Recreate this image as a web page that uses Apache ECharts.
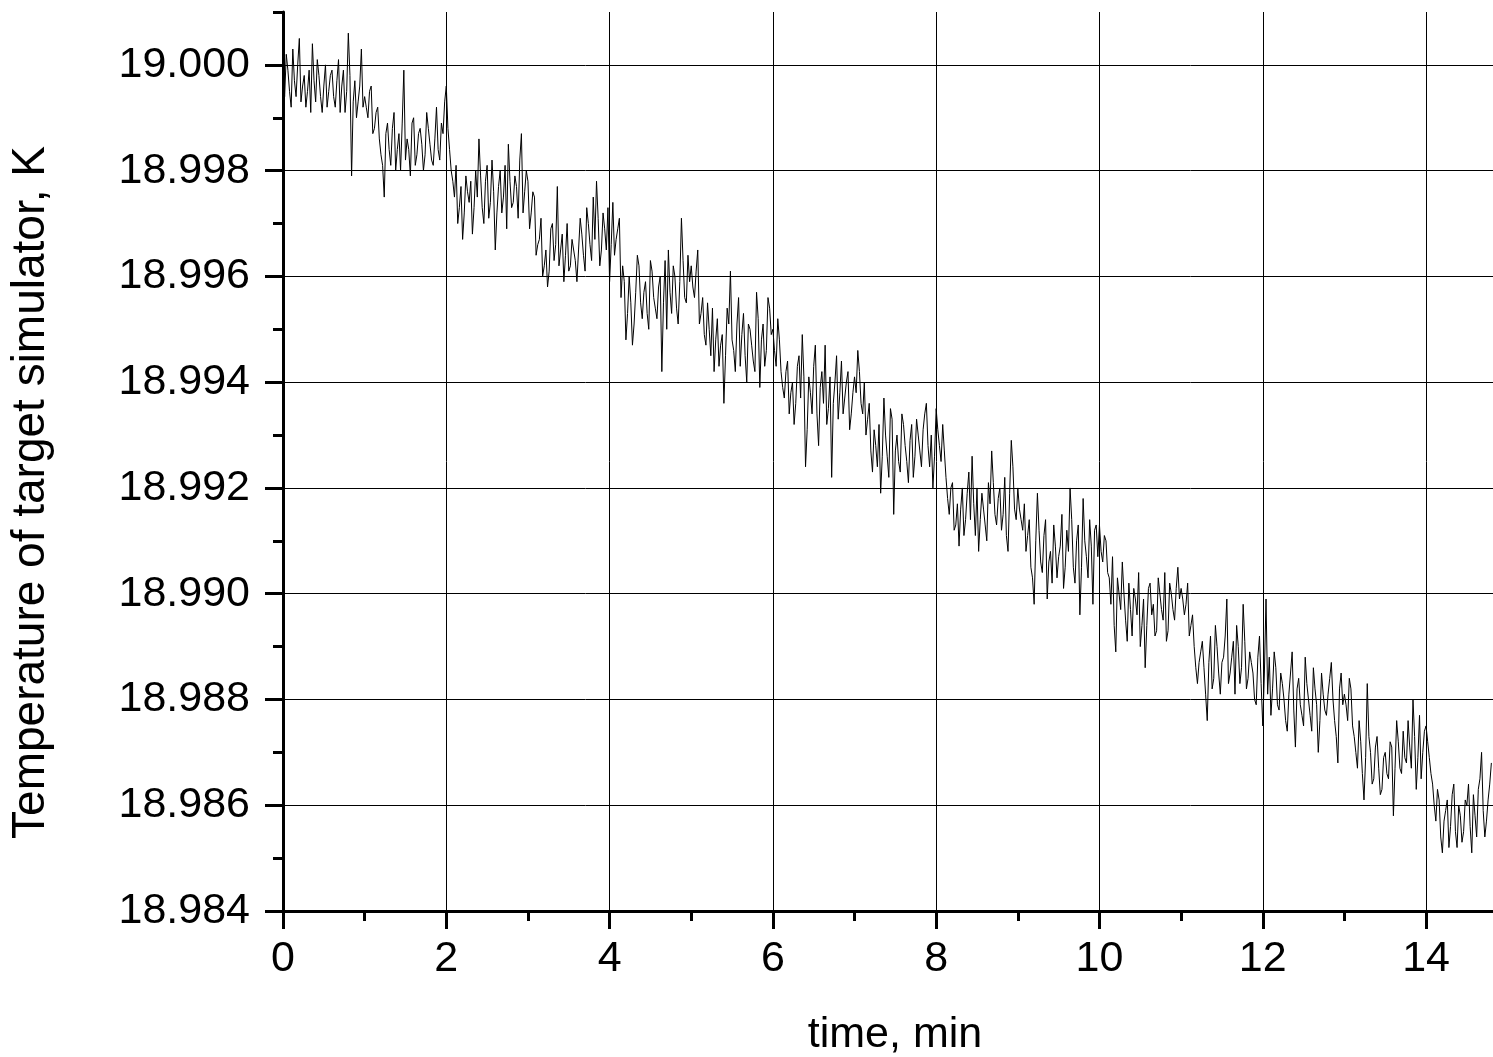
<!DOCTYPE html>
<html>
<head>
<meta charset="utf-8">
<title>Temperature of target simulator</title>
<script src="https://cdn.jsdelivr.net/npm/echarts@6/dist/echarts.min.js"></script>
<style>
  html, body { margin: 0; padding: 0; background: #fff; }
  #chart { width: 1493px; height: 1057px; }
</style>
</head>
<body>
<div id="chart"></div>
<script>
// sampling step of the trace, minutes
const sampleStep = 0.04;

// temperature, in 0.1 mK relative to 19.000 K
// samples at t = 0, 0.04, 0.08 ... (one row per minute)
const tempOffset = [
  -2, 2, -5, 3, -6, 5, -4, -8, -1, 4, -7, -2, -9, 0, -5, -1, -8, 1, -4, -9, 6, -21, -3, -7, 3,
  -6, -10, -4, -12, -8, -17, -25, -11, -19, -9, -16, -20, -1, -14, -21, -10, -17, -12, -20, -9, -15, -19, -8, -18, -13,
  -4, -16, -22, -19, -27, -33, -21, -26, -32, -20, -14, -27, -22, -29, -18, -35, -23, -28, -19, -15, -27, -21, -29, -13, -24,
  -22, -28, -25, -34, -29, -38, -42, -31, -37, -23, -35, -41, -30, -38, -33, -41, -29, -36, -27, -34, -25, -22, -38, -28, -35,
  -41, -26, -33, -29, -38, -52, -40, -53, -43, -38, -48, -41, -50, -39, -46, -42, -58, -37, -35, -47, -40, -49, -29, -44, -36,
  -38, -44, -35, -47, -51, -45, -55, -58, -48, -53, -64, -46, -39, -54, -49, -57, -47, -60, -50, -56, -43, -61, -49, -54, -46,
  -50, -57, -52, -61, -58, -66, -60, -64, -55, -51, -76, -59, -66, -53, -72, -58, -53, -65, -78, -60, -67, -56, -63, -58, -66,
  -59, -54, -64, -60, -67, -73, -69, -76, -81, -63, -74, -65, -85, -70, -77, -68, -75, -71, -78, -67, -73, -69, -64, -76, -80,
  -65, -72, -68, -78, -85, -79, -87, -91, -80, -86, -77, -74, -89, -92, -81, -87, -79, -73, -85, -82, -88, -78, -92, -71, -84,
  -80, -86, -83, -89, -95, -102, -81, -94, -89, -101, -92, -87, -97, -91, -99, -88, -80, -95, -90, -104, -82, -93, -86, -102, -87,
  -87, -94, -90, -97, -93, -111, -100, -94, -105, -98, -108, -101, -96, -106, -114, -99, -104, -108, -97, -103, -96, -107, -100, -105, -95,
  -99, -104, -98, -106, -110, -117, -111, -114, -124, -108, -116, -110, -119, -112, -101, -115, -109, -106, -117, -102, -118, -111, -115, -121, -108,
  -125, -101, -112, -118, -114, -122, -117, -124, -119, -111, -129, -116, -123, -112, -120, -126, -118, -130, -115, -122, -119, -113, -124, -132, -115,
  -119, -124, -118, -127, -133, -128, -139, -117, -130, -135, -127, -138, -131, -134, -128, -142, -124, -133, -126, -132, -129, -120, -137, -123, -130,
  -125, -131, -136, -143, -139, -149, -141, -148, -138, -145, -140, -147, -139, -136, -149, -142, -137, -130, -146, -139, -132
];

// samples in between, at t = 0.02, 0.06, 0.10 ... (same units, one row per minute)
const tempOffsetMid = [
  -6, -1, -8, -3, 0, -7, -2, -5, -9, -3, 1, -6, -4, -8, -2, -6, -3, -9, -1, -5, -2, -7, -10, -4, -8,
  -8, -5, -13, -9, -14, -19, -13, -16, -12, -20, -13, -11, -18, -16, -11, -19, -13, -15, -17, -12, -18, -14, -16, -11, -7,
  -12, -20, -25, -30, -23, -28, -24, -22, -27, -25, -21, -30, -19, -26, -24, -28, -20, -25, -31, -22, -26, -23, -18, -28, -20,
  -31, -24, -36, -33, -40, -35, -39, -30, -34, -38, -32, -36, -39, -33, -37, -35, -32, -39, -30, -37, -33, -29, -35, -31, -27,
  -34, -36, -31, -44, -41, -47, -45, -49, -36, -45, -43, -47, -37, -44, -48, -40, -45, -50, -43, -38, -46, -41, -37, -45, -41,
  -42, -39, -49, -44, -53, -50, -46, -52, -57, -51, -55, -49, -52, -58, -44, -51, -55, -49, -53, -58, -48, -52, -57, -44, -51,
  -54, -48, -58, -63, -56, -62, -68, -57, -63, -59, -69, -62, -57, -66, -61, -64, -68, -59, -64, -55, -62, -66, -60, -69, -62,
  -62, -58, -66, -70, -64, -77, -72, -68, -74, -70, -78, -67, -73, -75, -66, -72, -79, -68, -74, -70, -76, -66, -72, -70, -74,
  -69, -75, -73, -82, -80, -88, -83, -84, -89, -81, -86, -83, -80, -86, -84, -90, -83, -79, -87, -80, -85, -89, -81, -76, -86,
  -84, -88, -92, -86, -97, -90, -88, -96, -86, -94, -98, -91, -93, -85, -95, -92, -86, -98, -87, -95, -90, -97, -91, -88, -93,
  -92, -89, -96, -102, -106, -97, -103, -100, -109, -103, -99, -104, -110, -101, -106, -98, -102, -107, -100, -105, -109, -98, -103, -99, -101,
  -101, -102, -108, -104, -114, -113, -109, -119, -113, -118, -106, -115, -113, -108, -117, -112, -119, -110, -114, -109, -116, -113, -120, -112, -117,
  -115, -119, -123, -111, -121, -115, -120, -126, -115, -122, -118, -121, -125, -117, -123, -114, -121, -124, -119, -123, -116, -120, -127, -118, -121,
  -121, -116, -125, -130, -124, -134, -131, -127, -136, -129, -133, -137, -130, -135, -129, -133, -128, -134, -131, -124, -133, -127, -131, -135, -126,
  -128, -134, -140, -137, -146, -143, -139, -144, -136, -148, -142, -145, -140, -144, -138, -146, -135, -141, -143, -136
];

// axis ticks and labels
const timeMajor = [0, 2, 4, 6, 8, 10, 12, 14];
const timeMinor = [1, 3, 5, 7, 9, 11, 13];
const tempMajor = [18.984, 18.986, 18.988, 18.990, 18.992, 18.994, 18.996, 18.998, 19.000];
const tempMinor = [18.985, 18.987, 18.989, 18.991, 18.993, 18.995, 18.997, 18.999, 19.001];

const FONT = "'Liberation Sans', Arial, sans-serif";

const toKelvin = d => +(19 + d * 1e-4).toFixed(5);

// interleave the two sample sets in time order
const points = [];
tempOffset.forEach((d, i) => {
  points.push([+(i * sampleStep).toFixed(2), toKelvin(d)]);
  if (i < tempOffsetMid.length) {
    points.push([+(i * sampleStep + sampleStep / 2).toFixed(2), toKelvin(tempOffsetMid[i])]);
  }
});

const chart = echarts.init(document.getElementById("chart"), null, { renderer: "canvas" });

const option = {
  animation: false,
  backgroundColor: "#fff",
  grid: {
    left: 283,
    right: 0,
    top: 12,
    bottom: 146,
    containLabel: false,
    outerBoundsMode: "none"
  },
  xAxis: [
    {
      type: "value",
      min: 0,
      max: 14.82,
      interval: 1,
      position: "bottom",
      name: "time, min",
      nameLocation: "middle",
      nameGap: 103,
      nameTextStyle: { fontSize: 43, color: "#000", fontFamily: FONT, padding: [0, 0, 0, 14] },
      axisLine: { show: true, onZero: false, lineStyle: { color: "#000", width: 3 } },
      axisTick: { show: true, customValues: timeMajor, length: 18, lineStyle: { color: "#000", width: 3 } },
      axisLabel: {
        customValues: timeMajor,
        fontSize: 43,
        color: "#000",
        fontFamily: FONT,
        margin: 27
      },
      splitLine: { show: true, lineStyle: { color: "#000", width: 1 } }
    },
    {
      // minor ticks at odd minutes
      type: "value",
      min: 0,
      max: 14.82,
      interval: 1,
      position: "bottom",
      offset: 0,
      axisLine: { show: false },
      axisTick: { show: true, customValues: timeMinor, length: 10, lineStyle: { color: "#000", width: 3 } },
      axisLabel: { show: false },
      splitLine: { show: false }
    }
  ],
  yAxis: [
    {
      type: "value",
      min: 18.984,
      max: 19.001,
      interval: 0.001,
      position: "left",
      name: "Temperature of target simulator, K",
      nameLocation: "middle",
      nameGap: 229,
      // right padding pushes the rotated title down to where the original sits
      nameTextStyle: { fontSize: 46, color: "#000", fontFamily: FONT, padding: [0, 62, 0, 0] },
      axisLine: { show: true, onZero: false, lineStyle: { color: "#000", width: 3 } },
      axisTick: { show: true, customValues: tempMajor, length: 18, lineStyle: { color: "#000", width: 3 } },
      axisLabel: {
        customValues: tempMajor,
        formatter: v => v.toFixed(3),
        fontSize: 43,
        color: "#000",
        fontFamily: FONT,
        margin: 33
      },
      splitLine: { show: true, lineStyle: { color: "#000", width: 1 } }
    },
    {
      // minor ticks at odd thousandths
      type: "value",
      min: 18.984,
      max: 19.001,
      interval: 0.001,
      position: "left",
      offset: 0,
      axisLine: { show: false },
      axisTick: { show: true, customValues: tempMinor, length: 10, lineStyle: { color: "#000", width: 3 } },
      axisLabel: { show: false },
      splitLine: { show: false }
    }
  ],
  series: [
    {
      name: "Temperature",
      type: "line",
      xAxisIndex: 0,
      yAxisIndex: 0,
      data: points,
      showSymbol: false,
      symbol: "none",
      sampling: null,
      lineStyle: { color: "#000", width: 1 },
      z: 5
    }
  ]
};

chart.setOption(option);
</script>
</body>
</html>
